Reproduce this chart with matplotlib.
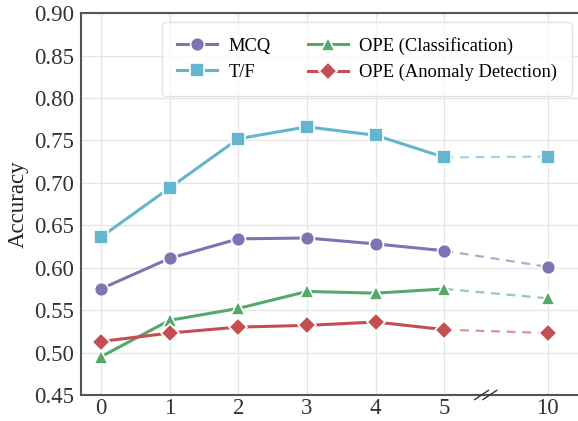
import matplotlib
matplotlib.use("Agg")
import matplotlib.pyplot as plt
import numpy as np

# Data
x_labels = ["0", "1", "2", "3", "4", "5", "10"]
x_pos = [0, 1, 2, 3, 4, 5, 6.5]
mcq = [0.575, 0.611, 0.634, 0.635, 0.628, 0.620, 0.601]
tf = [0.636, 0.694, 0.752, 0.766, 0.756, 0.730, 0.731]
ope_cls = [0.495, 0.538, 0.552, 0.572, 0.570, 0.575, 0.564]
ope_ad = [0.513, 0.523, 0.530, 0.532, 0.536, 0.527, 0.523]

series = [
    ("MCQ", mcq, "#8172B3", "o", 10),
    ("T/F", tf, "#64B5CD", "s", 10),
    ("OPE (Classification)", ope_cls, "#55A868", "^", 10),
    ("OPE (Anomaly Detection)", ope_ad, "#C44E52", "D", 9),
]

plt.rcParams['font.family'] = ['Liberation Serif', 'DejaVu Serif']
fig = plt.figure(figsize=(5.78, 4.21), dpi=100)
ax = fig.add_axes([0.140, 0.0618, 0.862, 0.907])

for name, vals, col, mk, ms in series:
    ax.plot(x_pos[:6], vals[:6], color=col, lw=2.2, marker=mk, ms=ms,
            markeredgecolor='white', markeredgewidth=1.2, label=name, zorder=3)
    ax.plot(x_pos[5:], vals[5:], color=col, lw=1.6, ls=(0, (4, 3)), alpha=0.6, zorder=2)
    ax.plot(x_pos[6:], vals[6:], color=col, lw=0, marker=mk, ms=ms,
            markeredgecolor='white', markeredgewidth=1.2, zorder=3)

ax.set_xlim(-0.29, 6.96)
ax.set_ylim(0.45, 0.90)
yt = np.arange(0.45, 0.901, 0.05)
ax.set_yticks(yt)
ax.set_yticklabels([f"{v:.2f}" for v in yt])
ax.set_xticks(x_pos)
ax.set_xticklabels(x_labels)
ax.tick_params(labelsize=16.5, length=0, colors='#333333')
ax.tick_params(axis='y', pad=5)
ax.tick_params(axis='x', pad=2)
ax.set_ylabel("Accuracy", fontsize=16.5, color='#222222', labelpad=4)
ax.grid(True, color='#e6e6e6', lw=1)
ax.set_axisbelow(True)
for s in ['left', 'bottom', 'top']:
    ax.spines[s].set_color('#555555')
    ax.spines[s].set_linewidth(1.5)
ax.spines['right'].set_visible(False)

# break marks
bx = 5.6
d = 0.1
for off in (-0.06, 0.06):
    ax.plot([bx + off - d, bx + off + d], [-0.012, 0.012], transform=ax.get_xaxis_transform(),
            color='#333333', lw=1.0, clip_on=False, zorder=5)

handles, labels = ax.get_legend_handles_labels()
leg = ax.legend(handles, labels, ncol=2, loc='upper right', bbox_to_anchor=(0.986, 0.977),
                borderaxespad=0, fontsize=13.3, frameon=True, handlelength=2.2,
                columnspacing=2.0, borderpad=0.8, labelspacing=0.5, handletextpad=0.6)
leg.get_frame().set_edgecolor('#dddddd')

fig.savefig("out.png", dpi=100)
